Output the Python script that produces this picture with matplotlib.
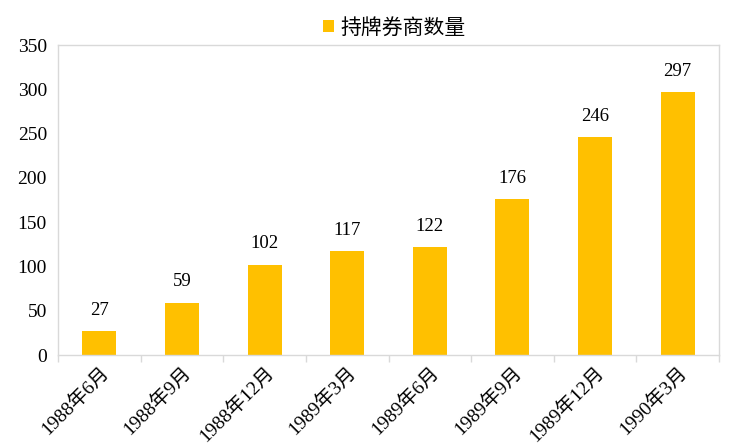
import matplotlib
matplotlib.use("Agg")
import matplotlib.pyplot as plt
import numpy as np

plt.rcParams['font.family'] = ['Liberation Serif', 'Noto Sans CJK SC']

categories = ['1988年6月', '1988年9月', '1988年12月', '1989年3月',
              '1989年6月', '1989年9月', '1989年12月', '1990年3月']
counts = [27, 59, 102, 117, 122, 176, 246, 297]
series_name = '持牌券商数量'
bar_color = '#FFC000'
grid_color = '#D9D9D9'

fig = plt.figure(figsize=(7.36, 4.48), dpi=100)
ax = fig.add_axes([58 / 736, 1 - 355 / 448, 661 / 736, 310 / 448])

x = np.arange(len(categories))
bars = ax.bar(x, counts, width=0.41, color=bar_color, label=series_name, zorder=2)
for xi, v in zip(x, counts):
    ax.text(xi, v + 14, str(v), ha='center', va='bottom', fontsize=13.5)

ax.set_xlim(-0.5, len(categories) - 0.5)
ax.set_ylim(0, 350)
ax.set_yticks(range(0, 351, 50))
ax.tick_params(axis='y', length=0, labelsize=14, pad=8)

ax.set_xticks(x)
ax.set_xticklabels(categories, rotation=45, ha='right', rotation_mode='anchor', fontsize=14)
ax.tick_params(axis='x', length=0, pad=6)
ax.set_xticks(np.arange(-0.5, len(categories), 1), minor=True)
ax.tick_params(axis='x', which='minor', length=5, color=grid_color, width=1)

for s in ax.spines.values():
    s.set_color(grid_color)
    s.set_linewidth(1)

# legend centred above the plot area
pos = ax.get_position()
fig.legend(handles=[bars], labels=[series_name], loc='upper center',
           bbox_to_anchor=(pos.x0 + pos.width / 2 + 0.008, 1.0),
           frameon=False, prop={'size': 15, 'weight': 500},
           handlelength=0.5, handleheight=0.5, handletextpad=0.3)

fig.savefig('out.png', dpi=100)
